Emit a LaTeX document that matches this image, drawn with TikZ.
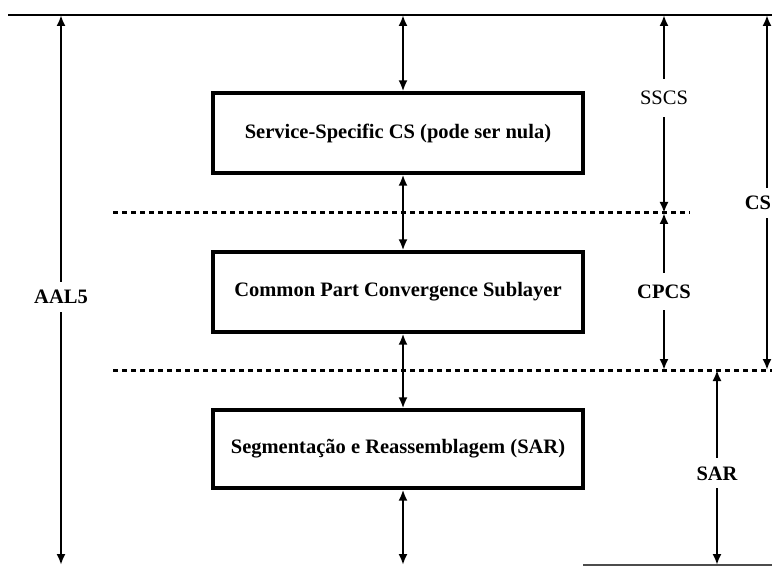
\documentclass[tikz,border=0pt]{standalone}
\usepackage{fontspec}
\setmainfont{Liberation Serif}
\usetikzlibrary{arrows.meta}
\begin{document}
\begin{tikzpicture}[x=1pt,y=-1pt,
  layerbox/.style={draw, line width=3.2pt, minimum width=370pt, minimum height=80pt,
    inner sep=0pt, font=\fontsize{20.5}{24}\selectfont\bfseries},
  link/.style={line width=2.8pt, {Latex[length=11pt,width=9pt]}-{Latex[length=11pt,width=9pt]}},
  boundary/.style={line width=3pt, dash pattern=on 5pt off 4pt},
  rule/.style={line width=2.4pt},
  tag/.style={fill=white, inner xsep=3pt, inner ysep=8pt, font=\fontsize{20.5}{24}\selectfont\bfseries},
  lighttag/.style={tag, font=\fontsize{20.5}{24}\selectfont}]

\clip (0,0) rectangle (772,567);
\useasboundingbox (0,0) rectangle (772,567);

% reference columns and rows
\coordinate (ax) at (403,0);
\coordinate (lx) at (61,0);
\coordinate (sx) at (664,0);
\coordinate (rx) at (717,0);
\coordinate (cx) at (767,0);
\coordinate (tl) at (8,15);
\coordinate (tr) at (772,15);
\coordinate (d1l) at (113,213);
\coordinate (d1r) at (690,213);
\coordinate (d2l) at (113,370);
\coordinate (d2r) at (772,370);
\coordinate (bl) at (583,565);
\coordinate (br) at (772,565);

% top rule and sublayer boundaries
\draw[rule] (tl) -- (tr);
\draw[boundary] (d1l) -- (d1r);
\draw[boundary] (d2l) -- (d2r);
\draw[line width=1.4pt, black!70] (bl) -- (br);

% the three sublayers
\node[layerbox] (sscs) at (398,133) {Service-Specific CS (pode ser nula)};
\node[layerbox] (cpcs) at (398,292) {Common Part Convergence Sublayer};
\node[layerbox, minimum height=78pt] (sar) at (398,449) {Segmentação e Reassemblagem (SAR)};

% vertical data flow
\draw[link] (tl -| ax) -- (sscs.north -| ax);
\draw[link] (sscs.south -| ax) -- (cpcs.north -| ax);
\draw[link] (cpcs.south -| ax) -- (sar.north -| ax);
\draw[link] (sar.south -| ax) -- (bl -| ax);

% extents of the layers
\draw[link] (tl -| lx) -- node[tag, pos=0.513] {AAL5} (bl -| lx);
\draw[link] (tl -| sx) -- node[lighttag, inner ysep=12pt, pos=0.42] {SSCS} (d1l -| sx);
\draw[link] (d1l -| sx) -- node[tag, inner ysep=12pt] {CPCS} (d2l -| sx);
\draw[link] (tl -| cx) -- node[tag, inner xsep=1pt, pos=0.53, xshift=-9pt] {CS} (d2l -| cx);
\draw[link] (d2l -| rx) -- node[tag, pos=0.53] {SAR} (bl -| rx);
\end{tikzpicture}
\end{document}
